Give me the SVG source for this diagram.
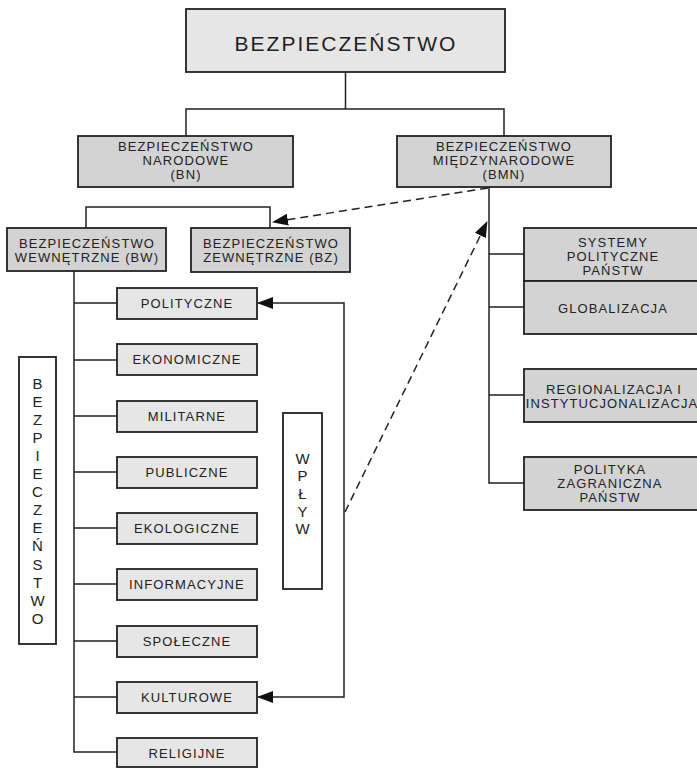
<svg xmlns="http://www.w3.org/2000/svg" width="697" height="768" viewBox="0 0 697 768">
<style>
text{font-family:"Liberation Sans",Arial,sans-serif;fill:#222;text-anchor:middle}
.t{font-size:13px;letter-spacing:1.1px}
.big{font-size:21px;letter-spacing:2px}
.v{font-size:15px}
.light{fill:#e6e6e6;stroke:#222;stroke-width:1.8}
.dark{fill:#d3d3d3;stroke:#222;stroke-width:1.8}
.white{fill:#fff;stroke:#222;stroke-width:1.8}
.ln{fill:none;stroke:#222;stroke-width:1.5}
.dash{fill:none;stroke:#222;stroke-width:1.5;stroke-dasharray:8 5}
</style>
<defs>
<marker id="ah" markerUnits="userSpaceOnUse" markerWidth="16" markerHeight="12" refX="15" refY="6" orient="auto-start-reverse" viewBox="0 0 16 12">
<path d="M0 0 L16 6 L0 12 Z" fill="#111"/>
</marker>
</defs>
<g id="connectors">
<path class="ln" d="M345.5 72 V109 M186 136 V109 H504 V136"/>
<path class="ln" d="M86 228 V207 H270 V228"/>
<path class="ln" d="M489 187 V483 H524 M489 254 H524 M489 307 H524 M489 395 H524"/>
<path class="ln" d="M74 271 V752 H117 M74 303 H117 M74 360 H117 M74 416 H117 M74 472 H117 M74 528 H117 M74 584 H117 M74 641 H117 M74 697 H117"/>
<path class="ln" d="M258 303 H344 V697 H258" marker-start="url(#ah)" marker-end="url(#ah)"/>
<path class="dash" d="M488 188 L273 222" marker-end="url(#ah)"/>
<path class="dash" d="M345 512 L487 222" marker-end="url(#ah)"/>
</g>
<g id="n-top"><rect class="light" x="186" y="9" width="319" height="63"/><text class="big" x="346" y="51">BEZPIECZEŃSTWO</text></g>
<g id="n-bn"><rect class="dark" x="78" y="136" width="215" height="51"/><text class="t" x="186" y="151">BEZPIECZEŃSTWO</text><text class="t" x="186" y="165">NARODOWE</text><text class="t" x="186" y="179">(BN)</text></g>
<g id="n-bmn"><rect class="dark" x="397" y="136" width="214" height="51"/><text class="t" x="504" y="151">BEZPIECZEŃSTWO</text><text class="t" x="504" y="165">MIĘDZYNARODOWE</text><text class="t" x="504" y="179">(BMN)</text></g>
<g id="n-bw"><rect class="dark" x="7" y="228" width="159" height="43"/><text class="t" x="87" y="248">BEZPIECZEŃSTWO</text><text class="t" x="87" y="262">WEWNĘTRZNE (BW)</text></g>
<g id="n-bz"><rect class="dark" x="191" y="228" width="159" height="44"/><text class="t" x="271" y="248">BEZPIECZEŃSTWO</text><text class="t" x="271" y="262">ZEWNĘTRZNE (BZ)</text></g>
<g id="n-systemy"><rect class="dark" x="524" y="228" width="190" height="53"/><text class="t" x="613" y="247">SYSTEMY</text><text class="t" x="613" y="261">POLITYCZNE</text><text class="t" x="613" y="275">PAŃSTW</text></g>
<g id="n-glob"><rect class="dark" x="524" y="281" width="190" height="53"/><text class="t" x="613" y="313">GLOBALIZACJA</text></g>
<g id="n-reg"><rect class="dark" x="524" y="369" width="190" height="53"/><text class="t" x="614" y="394">REGIONALIZACJA I</text><text class="t" x="612" y="408">INSTYTUCJONALIZACJA</text></g>
<g id="n-pol"><rect class="dark" x="524" y="457" width="190" height="53"/><text class="t" x="610" y="474">POLITYKA</text><text class="t" x="610" y="488">ZAGRANICZNA</text><text class="t" x="610" y="502">PAŃSTW</text></g>
<g id="n-polityczne"><rect class="light" x="117" y="288" width="140" height="31"/><text class="t" x="187" y="308">POLITYCZNE</text></g>
<g id="n-ekonomiczne"><rect class="light" x="117" y="344" width="140" height="31"/><text class="t" x="187" y="364">EKONOMICZNE</text></g>
<g id="n-militarne"><rect class="light" x="117" y="401" width="140" height="31"/><text class="t" x="187" y="421">MILITARNE</text></g>
<g id="n-publiczne"><rect class="light" x="117" y="457" width="140" height="31"/><text class="t" x="187" y="477">PUBLICZNE</text></g>
<g id="n-ekologiczne"><rect class="light" x="117" y="513" width="140" height="31"/><text class="t" x="187" y="533">EKOLOGICZNE</text></g>
<g id="n-informacyjne"><rect class="light" x="117" y="569" width="140" height="31"/><text class="t" x="187" y="589">INFORMACYJNE</text></g>
<g id="n-spoleczne"><rect class="light" x="117" y="626" width="140" height="31"/><text class="t" x="187" y="646">SPOŁECZNE</text></g>
<g id="n-kulturowe"><rect class="light" x="117" y="682" width="140" height="31"/><text class="t" x="187" y="702">KULTUROWE</text></g>
<g id="n-religijne"><rect class="light" x="117" y="738" width="140" height="29"/><text class="t" x="187" y="758">RELIGIJNE</text></g>
<g id="n-bezp-vert"><rect class="white" x="19" y="357" width="37" height="287"/>
<text class="v" x="37.5"><tspan x="37.5" y="388.5">B</tspan><tspan x="37.5" y="406.6">E</tspan><tspan x="37.5" y="424.7">Z</tspan><tspan x="37.5" y="442.8">P</tspan><tspan x="37.5" y="460.9">I</tspan><tspan x="37.5" y="479">E</tspan><tspan x="37.5" y="497.1">C</tspan><tspan x="37.5" y="515.2">Z</tspan><tspan x="37.5" y="533.3">E</tspan><tspan x="37.5" y="551.4">Ń</tspan><tspan x="37.5" y="569.5">S</tspan><tspan x="37.5" y="587.6">T</tspan><tspan x="37.5" y="605.7">W</tspan><tspan x="37.5" y="623.8">O</tspan></text></g>
<g id="n-wplyw"><rect class="white" x="283" y="413" width="39" height="176"/>
<text class="v" x="302.5"><tspan x="302.5" y="463.5">W</tspan><tspan x="302.5" y="481.2">P</tspan><tspan x="302.5" y="498.9">Ł</tspan><tspan x="302.5" y="516.6">Y</tspan><tspan x="302.5" y="534.3">W</tspan></text></g>
</svg>
